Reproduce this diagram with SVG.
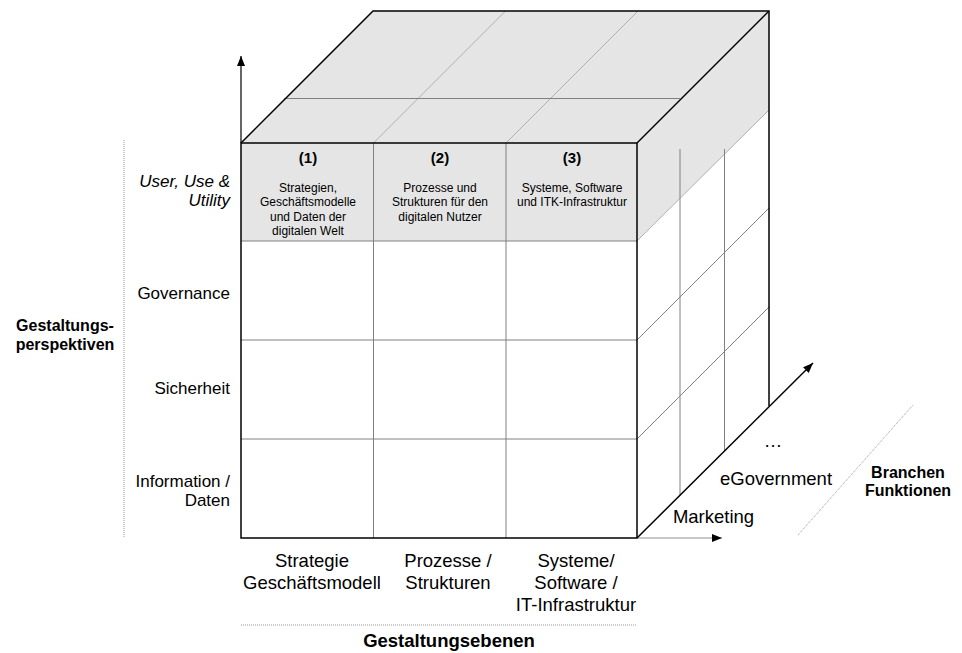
<svg xmlns="http://www.w3.org/2000/svg" width="962" height="653" viewBox="0 0 962 653">
  <defs>
    <marker id="ah" viewBox="0 0 10 10" refX="10" refY="5" markerWidth="10" markerHeight="10" markerUnits="userSpaceOnUse" orient="auto">
      <path d="M0,1 L10,5 L0,9 z" fill="#000"/>
    </marker>
    <style>
      text { font-family: "Liberation Sans", Arial, sans-serif; fill: #000; }
      .cell { font-size: 12px; text-anchor: middle; }
      .num { font-size: 15px; font-weight: bold; text-anchor: middle; }
      .lbl { font-size: 17px; text-anchor: end; }
      .blbl { font-size: 18.5px; text-anchor: middle; }
      .rlbl { font-size: 18.5px; text-anchor: middle; }
      .title { font-weight: bold; text-anchor: middle; }
      .grid { stroke: #808080; stroke-width: 1; fill: none; }
      .lgrid { stroke: #b0b0b0; stroke-width: 1; fill: none; }
      .edge { stroke: #000; stroke-width: 1.5; fill: none; }
      .dot { stroke: #9a9a9a; stroke-width: 1; stroke-dasharray: 1 1; fill: none; }
      .shade { fill: #e5e5e5; }
    </style>
  </defs>

  <!-- Cube: top face -->
  <g id="top-face">
    <polygon class="shade" points="241,143 373,11 769,11 637,143"/>
    <line class="lgrid" x1="373.5" y1="143" x2="505.5" y2="11"/>
    <line class="lgrid" x1="506" y1="143" x2="638" y2="11"/>
    <line class="grid" x1="284" y1="98.5" x2="680" y2="98.5"/>
  </g>

  <!-- Cube: right face -->
  <g id="right-face">
    <polygon fill="#fff" points="637,143 769,11 769,406 637,538"/>
    <polygon class="shade" points="637,143 769,11 769,110 637,241"/>
    <line class="lgrid" x1="637" y1="241" x2="769" y2="110"/>
    <line class="grid" x1="637" y1="340" x2="769" y2="208"/>
    <line class="grid" x1="637" y1="439" x2="769" y2="307"/>
    <line class="grid" x1="680" y1="149" x2="680" y2="495"/>
    <line class="grid" x1="724.5" y1="149" x2="724.5" y2="451"/>
  </g>

  <!-- Cube: front face cells -->
  <g id="front-face">
    <rect x="241" y="143" width="396" height="98" class="shade"/>
    <rect x="241" y="241" width="396" height="297" fill="#fff"/>
    <line class="grid" x1="373.5" y1="143" x2="373.5" y2="538"/>
    <line class="grid" x1="506" y1="143" x2="506" y2="538"/>
    <line class="grid" x1="241" y1="241" x2="637" y2="241"/>
    <line class="grid" x1="241" y1="340" x2="637" y2="340"/>
    <line class="grid" x1="241" y1="439" x2="637" y2="439"/>
  </g>

  <!-- Cube outline -->
  <g id="cube-edges">
    <rect x="241" y="143" width="396" height="395" class="edge"/>
    <polyline class="edge" points="241,143 373,11 769,11 769,406"/>
    <line class="edge" x1="637" y1="143" x2="769" y2="11"/>
  </g>

  <!-- Column headers -->
  <g id="cell-1">
    <text class="num" x="308" y="163">(1)</text>
    <text class="cell" x="308" y="191.5">Strategien,</text>
    <text class="cell" x="308" y="206">Geschäftsmodelle</text>
    <text class="cell" x="308" y="220.5">und Daten der</text>
    <text class="cell" x="308" y="235">digitalen Welt</text>
  </g>
  <g id="cell-2">
    <text class="num" x="440" y="163">(2)</text>
    <text class="cell" x="440" y="191.5">Prozesse und</text>
    <text class="cell" x="440" y="206">Strukturen für den</text>
    <text class="cell" x="440" y="220.5">digitalen Nutzer</text>
  </g>
  <g id="cell-3">
    <text class="num" x="572" y="163">(3)</text>
    <text class="cell" x="572" y="191.5">Systeme, Software</text>
    <text class="cell" x="572" y="206">und ITK-Infrastruktur</text>
  </g>

  <!-- Row labels -->
  <g id="row-user">
    <text class="lbl" x="230" y="187" font-style="italic">User, Use &amp;</text>
    <text class="lbl" x="230" y="205.5" font-style="italic">Utility</text>
  </g>
  <g id="row-governance">
    <text class="lbl" x="230" y="299">Governance</text>
  </g>
  <g id="row-sicherheit">
    <text class="lbl" x="230" y="394">Sicherheit</text>
  </g>
  <g id="row-information">
    <text class="lbl" x="230" y="487">Information /</text>
    <text class="lbl" x="230" y="506">Daten</text>
  </g>
  <g id="axis-perspektiven">
    <text class="title" x="65" y="331" font-size="16">Gestaltungs-</text>
    <text class="title" x="65" y="350" font-size="16">perspektiven</text>
  </g>

  <!-- Column labels -->
  <g id="col-strategie">
    <text class="blbl" x="312" y="567">Strategie</text>
    <text class="blbl" x="312" y="589">Geschäftsmodell</text>
  </g>
  <g id="col-prozesse">
    <text class="blbl" x="448" y="567">Prozesse /</text>
    <text class="blbl" x="448" y="589">Strukturen</text>
  </g>
  <g id="col-systeme">
    <text class="blbl" x="576" y="567">Systeme/</text>
    <text class="blbl" x="576" y="589">Software /</text>
    <text class="blbl" x="576" y="611">IT-Infrastruktur</text>
  </g>
  <g id="axis-ebenen">
    <text class="title" x="449" y="647" font-size="18.5">Gestaltungsebenen</text>
  </g>

  <!-- Depth labels -->
  <g id="depth-marketing">
    <text class="rlbl" x="713.5" y="523">Marketing</text>
  </g>
  <g id="depth-egovernment">
    <text class="rlbl" x="776" y="485">eGovernment</text>
  </g>
  <g id="depth-more">
    <text class="rlbl" x="773" y="447">…</text>
  </g>
  <g id="axis-branchen">
    <text class="title" x="908" y="478" font-size="16">Branchen</text>
    <text class="title" x="908" y="496" font-size="16">Funktionen</text>
  </g>

  <!-- Connectors: axes and separators -->
  <g id="connectors">
    <line x1="241" y1="143" x2="241" y2="56" stroke="#000" stroke-width="1.2" marker-end="url(#ah)"/>
    <line x1="637" y1="538" x2="722" y2="538" stroke="#909090" stroke-width="1.2" marker-end="url(#ah)"/>
    <line x1="637" y1="538" x2="813" y2="363" stroke="#000" stroke-width="1.5" marker-end="url(#ah)"/>
    <line class="dot" x1="124" y1="140" x2="124" y2="538"/>
    <line class="dot" x1="241" y1="625" x2="637" y2="625"/>
    <line class="dot" x1="798" y1="535" x2="913" y2="405"/>
  </g>
</svg>
